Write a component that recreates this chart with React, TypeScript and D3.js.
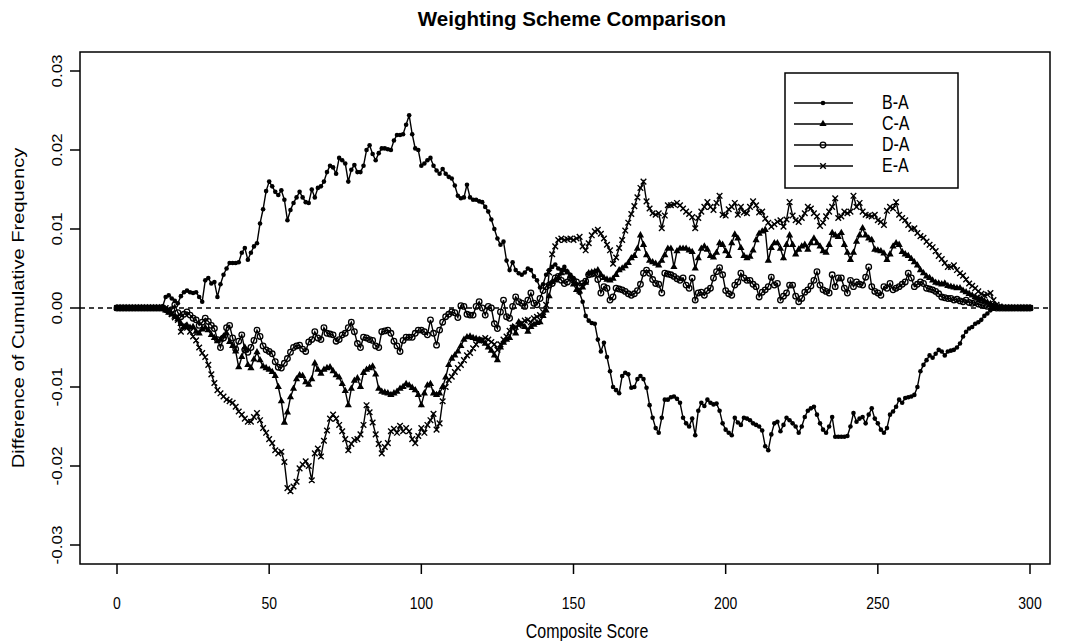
import React from "react"
import * as d3 from "d3"

// composite scores, one point per score
const scores: number[] = d3.range(0, 301)

// difference of cumulative frequency in units of 0.0001
const diffBA = [
  0, 0, 0, 0, 0, 0, 0, 0, 0, 0,
  0, 0, 0, 0, 0, 2, 14, 16, 12, 9,
  6, 15, 20, 22, 20, 19, 20, 14, 8, 35,
  38, 31, 33, 14, 30, 42, 50, 57, 57, 57,
  58, 70, 76, 61, 70, 78, 82, 107, 125, 148,
  160, 154, 147, 143, 149, 137, 111, 124, 133, 140,
  147, 140, 134, 133, 150, 140, 152, 154, 160, 172,
  180, 178, 170, 190, 187, 183, 160, 175, 181, 172,
  172, 180, 200, 206, 195, 187, 196, 202, 202, 201,
  200, 212, 219, 219, 220, 232, 244, 220, 202, 200,
  180, 183, 187, 190, 180, 174, 170, 176, 170, 166,
  164, 155, 142, 139, 140, 156, 140, 137, 137, 135,
  134, 128, 122, 112, 100, 88, 80, 84, 60, 48,
  58, 48, 44, 42, 45, 50, 48, 40, 35, 26,
  30, 42, 48, 52, 55, 50, 48, 52, 46, 42,
  38, 30, 19, 8, -10, -16, -19, -20, -40, -55,
  -44, -62, -80, -100, -104, -108, -86, -82, -84, -101,
  -100, -90, -86, -90, -101, -123, -139, -152, -158, -139,
  -116, -116, -113, -112, -115, -120, -139, -146, -150, -140,
  -161, -130, -120, -124, -116, -120, -122, -121, -130, -146,
  -154, -158, -161, -139, -145, -148, -139, -140, -142, -146,
  -148, -150, -155, -175, -180, -160, -146, -144, -156, -148,
  -139, -142, -146, -150, -158, -150, -138, -130, -127, -125,
  -135, -146, -154, -158, -150, -138, -163, -163, -163, -163,
  -162, -150, -133, -144, -140, -138, -146, -135, -127, -140,
  -146, -154, -158, -152, -135, -131, -125, -116, -120, -114,
  -113, -112, -110, -100, -80, -72, -66, -60, -63, -58,
  -53, -55, -60, -55, -54, -53, -50, -45, -36, -30,
  -26, -24, -20, -18, -15, -10, -7, -3, -1, 0,
  0, 0, 0, 0, 0, 0, 0, 0, 0, 0,
  0,
]

const diffCA = [
  0, 0, 0, 0, 0, 0, 0, 0, 0, 0,
  0, 0, 0, 0, 0, 0, -3, -6, -8, -11,
  -14, -20, -24, -22, -25, -24, -30, -32, -27, -25,
  -28, -34, -38, -42, -40, -36, -32, -43, -48, -55,
  -75, -62, -50, -72, -76, -65, -56, -66, -74, -76,
  -78, -81, -86, -100, -118, -145, -132, -113, -102, -90,
  -85, -86, -94, -97, -90, -70, -78, -83, -78, -76,
  -75, -80, -85, -88, -96, -105, -123, -102, -92, -89,
  -100, -82, -78, -76, -74, -84, -102, -106, -107, -108,
  -110, -108, -106, -102, -100, -96, -98, -101, -104, -110,
  -123, -108, -98, -96, -108, -110, -108, -100, -88, -72,
  -64, -60, -55, -48, -40, -37, -36, -38, -39, -40,
  -42, -45, -50, -54, -60, -66, -50, -44, -40, -38,
  -24, -32, -18, -21, -24, -30, -24, -21, -19, -18,
  -10, -3, 15, 33, 35, 38, 44, 48, 45, 40,
  30, 23, 21, 26, 32, 44, 45, 46, 48, 42,
  38, 36, 35, 37, 42, 48, 50, 53, 57, 63,
  66, 75, 92, 80, 67, 60, 58, 56, 54, 60,
  67, 75, 75, 52, 72, 75, 75, 75, 73, 71,
  50, 63, 75, 78, 74, 66, 64, 70, 82, 80,
  72, 66, 82, 93, 88, 76, 66, 63, 65, 73,
  86, 94, 97, 99, 60, 76, 82, 82, 75, 63,
  80, 92, 80, 68, 74, 78, 80, 74, 82, 88,
  82, 78, 72, 70, 80, 95, 92, 90, 95, 80,
  70, 61, 70, 84, 92, 101, 92, 88, 86, 74,
  73, 72, 69, 61, 68, 78, 82, 80, 71, 68,
  66, 62, 58, 54, 48, 44, 40, 38, 35, 32,
  31, 30, 31, 28, 27, 26, 25, 25, 22, 20,
  18, 16, 14, 12, 11, 9, 7, 5, 3, 2,
  1, 0, 0, 0, 0, 0, 0, 0, 0, 0,
  0,
]

const diffDA = [
  0, 0, 0, 0, 0, 0, 0, 0, 0, 0,
  0, 0, 0, 0, 0, 0, -2, -4, -2, 4,
  -6, -11, -8, -5, -9, -13, -15, -22, -18, -13,
  -17, -22, -26, -40, -50, -38, -25, -22, -38, -52,
  -42, -34, -53, -56, -50, -41, -28, -36, -48, -53,
  -55, -58, -68, -75, -76, -70, -64, -56, -50, -48,
  -47, -52, -55, -43, -40, -30, -38, -40, -25, -32,
  -33, -34, -42, -40, -34, -32, -25, -18, -30, -45,
  -50, -37, -38, -40, -41, -48, -50, -30, -29, -28,
  -32, -42, -48, -55, -41, -37, -37, -37, -32, -28,
  -28, -30, -34, -15, -32, -47, -28, -18, -11, -8,
  -5, -6, -12, 3, 2, -8, -9, -9, 2, 8,
  0, -9, 2, 0, -20, -26, -5, 10, -11, -13,
  2, 14, 8, 6, 2, 10, 19, 6, 4, 12,
  22, 27, 29, 31, 38, 40, 35, 31, 33, 38,
  35, 33, 28, 31, 34, 42, 43, 44, 36, 19,
  27, 25, 10, 14, 25, 24, 23, 21, 18, 16,
  18, 22, 30, 44, 48, 44, 36, 31, 30, 19,
  44, 43, 42, 40, 37, 35, 38, 29, 25, 38,
  10, 19, 20, 16, 22, 25, 38, 46, 51, 42,
  22, 18, 16, 29, 33, 44, 38, 35, 35, 30,
  27, 14, 20, 23, 27, 39, 29, 31, 10, 15,
  19, 29, 29, 15, 8, 12, 20, 23, 28, 35,
  46, 29, 23, 21, 19, 42, 27, 38, 38, 25,
  19, 35, 27, 33, 30, 29, 39, 52, 27, 21,
  19, 16, 27, 25, 31, 23, 25, 27, 30, 33,
  44, 38, 27, 30, 33, 31, 25, 24, 23, 21,
  18, 14, 13, 12, 12, 10, 11, 9, 8, 10,
  7, 6, 7, 5, 4, 3, 2, 2, 1, 0,
  0, 0, 0, 0, 0, 0, 0, 0, 0, 0,
  0,
]

const diffEA = [
  0, 0, 0, 0, 0, 0, 0, 0, 0, 0,
  0, 0, 0, 0, 0, 0, 0, -3, -8, -12,
  -15, -30, -22, -25, -30, -36, -41, -50, -57, -62,
  -72, -84, -95, -104, -108, -112, -116, -118, -120, -125,
  -131, -135, -140, -144, -144, -138, -133, -142, -152, -158,
  -166, -171, -180, -184, -182, -195, -228, -232, -226, -220,
  -203, -198, -194, -200, -218, -184, -178, -188, -168, -155,
  -140, -135, -140, -148, -156, -166, -180, -172, -167, -166,
  -160, -148, -123, -132, -145, -160, -172, -184, -176, -171,
  -156, -153, -158, -149, -156, -152, -156, -166, -171, -162,
  -152, -158, -148, -142, -134, -154, -146, -118, -100, -91,
  -87, -81, -76, -72, -66, -60, -57, -51, -46, -41,
  -40, -38, -40, -43, -46, -53, -46, -40, -36, -29,
  -25, -24, -22, -19, -16, -15, -18, -13, -11, -9,
  -5, 4, 45, 68, 78, 86, 88, 86, 87, 88,
  86, 88, 90, 78, 73, 82, 92, 97, 99, 94,
  88, 80, 73, 56, 64, 76, 86, 98, 108, 119,
  129, 140, 152, 160, 135, 126, 120, 118, 120, 101,
  117, 130, 130, 131, 133, 130, 126, 122, 119, 115,
  101, 114, 122, 128, 134, 128, 124, 133, 142, 118,
  117, 125, 128, 133, 118, 128, 121, 120, 128, 135,
  130, 121, 122, 113, 108, 103, 106, 109, 111, 103,
  112, 134, 117, 111, 109, 114, 120, 128, 126, 120,
  116, 104, 108, 116, 122, 128, 139, 114, 116, 122,
  120, 122, 142, 128, 133, 122, 118, 117, 116, 118,
  111, 109, 105, 123, 128, 126, 134, 118, 114, 111,
  105, 100, 101, 95, 91, 89, 84, 80, 77, 72,
  66, 62, 57, 52, 52, 54, 48, 44, 41, 36,
  31, 28, 25, 21, 18, 16, 17, 19, 10, 4,
  2, 0, 0, 0, 0, 0, 0, 0, 0, 0,
  0,
]

const seriesNames = ["B-A", "C-A", "D-A", "E-A"]
const seriesValues = [diffBA, diffCA, diffDA, diffEA]
const markerKinds = ["dot", "triangle", "circle", "cross"]

const xTicks = [0, 50, 100, 150, 200, 250, 300]
const yTicks = [-0.03, -0.02, -0.01, 0, 0.01, 0.02, 0.03]

const font = "'Liberation Sans', Arial, sans-serif"
// the scanned figure is a little taller than wide, text included
const stretch = 1.22

// path for a run of markers of one kind
function markerPath(kind: string, pts: [number, number][]) {
  let d = ""
  pts.forEach(([px, py]) => {
    if (kind === "triangle") {
      d += `M${px},${py - 4.2}L${px + 3.6},${py + 2.1}L${px - 3.6},${py + 2.1}Z`
    } else if (kind === "cross") {
      const a = 2.8
      d += `M${px - a},${py - a}L${px + a},${py + a}M${px - a},${py + a}L${px + a},${py - a}`
    }
  })
  return d
}

function Markers({ kind, pts }: { kind: string; pts: [number, number][] }) {
  if (kind === "dot") {
    return <g>{pts.map((p, i) => <circle key={i} cx={p[0]} cy={p[1]} r={2.3} fill="#000" />)}</g>
  }
  if (kind === "circle") {
    return (
      <g>
        {pts.map((p, i) => (
          <circle key={i} cx={p[0]} cy={p[1]} r={2.8} fill="none" stroke="#000" strokeWidth={1.3} />
        ))}
      </g>
    )
  }
  if (kind === "triangle") {
    return <path d={markerPath(kind, pts)} fill="#000" />
  }
  return <path d={markerPath(kind, pts)} fill="none" stroke="#000" strokeWidth={1.4} />
}

export default function App() {
  const W = 1067
  const H = 641
  const box = { left: 80, right: 1050, top: 52, bottom: 564 }

  const x = d3.scaleLinear().domain([0, 300]).range([117, 1030])
  const y = d3.scaleLinear().domain([-0.03, 0.03]).range([545, 71])

  const line = d3
    .line<[number, number]>()
    .x((d) => d[0])
    .y((d) => d[1])

  const series = seriesValues.map((vals) =>
    scores.map((s, i) => [x(s), y(vals[i] / 10000)] as [number, number])
  )

  const legend = { left: 785, top: 73, width: 173, height: 115 }
  const legendRows = [103, 124, 145, 166]

  return (
    <svg
      width={W}
      height={H}
      style={{ position: "absolute", left: 0, top: 0, background: "#fff" }}
      fontFamily={font}
    >
      <rect x={0} y={0} width={W} height={H} fill="#fff" />

      {/* zero reference */}
      <line
        x1={box.left}
        x2={box.right}
        y1={y(0)}
        y2={y(0)}
        stroke="#000"
        strokeWidth={1.5}
        strokeDasharray="5,4"
      />

      {series.map((pts, k) => (
        <g key={seriesNames[k]}>
          <path d={line(pts) || ""} fill="none" stroke="#000" strokeWidth={1.4} />
          <Markers kind={markerKinds[k]} pts={pts} />
        </g>
      ))}

      {/* plot box */}
      <rect
        x={box.left}
        y={box.top}
        width={box.right - box.left}
        height={box.bottom - box.top}
        fill="none"
        stroke="#000"
        strokeWidth={1.5}
      />

      {/* x axis */}
      <g>
        {xTicks.map((t) => (
          <g key={t}>
            <line x1={x(t)} x2={x(t)} y1={box.bottom} y2={box.bottom + 10} stroke="#000" strokeWidth={1.5} />
            <text
              transform={`translate(${x(t)},609) scale(1,${stretch})`}
              textAnchor="middle"
              fontSize={14}
            >
              {t}
            </text>
          </g>
        ))}
      </g>

      {/* y axis */}
      <g>
        {yTicks.map((t) => (
          <g key={t}>
            <line x1={box.left - 10} x2={box.left} y1={y(t)} y2={y(t)} stroke="#000" strokeWidth={1.5} />
            <text
              transform={`translate(62,${y(t)}) scale(1,${stretch}) rotate(-90)`}
              textAnchor="middle"
              fontSize={14}
            >
              {t.toFixed(2)}
            </text>
          </g>
        ))}
      </g>

      <text x={572} y={26} textAnchor="middle" fontSize={20.5} fontWeight="bold">
        Weighting Scheme Comparison
      </text>
      <text
        transform={`translate(587,638) scale(1,${stretch})`}
        textAnchor="middle"
        fontSize={16}
      >
        Composite Score
      </text>
      <text
        transform={`translate(24,308) scale(1,${stretch}) rotate(-90)`}
        textAnchor="middle"
        fontSize={16.5}
      >
        Difference of Cumulative Frequency
      </text>

      {/* legend */}
      <g>
        <rect
          x={legend.left}
          y={legend.top}
          width={legend.width}
          height={legend.height}
          fill="#fff"
          stroke="#000"
          strokeWidth={1.5}
        />
        {seriesNames.map((name, k) => (
          <g key={name}>
            <line x1={794} x2={853} y1={legendRows[k]} y2={legendRows[k]} stroke="#000" strokeWidth={1.4} />
            <Markers kind={markerKinds[k]} pts={[[823, legendRows[k]]]} />
            <text
              transform={`translate(882,${legendRows[k] + 6}) scale(1,${stretch})`}
              fontSize={16}
            >
              {name}
            </text>
          </g>
        ))}
      </g>
    </svg>
  )
}
